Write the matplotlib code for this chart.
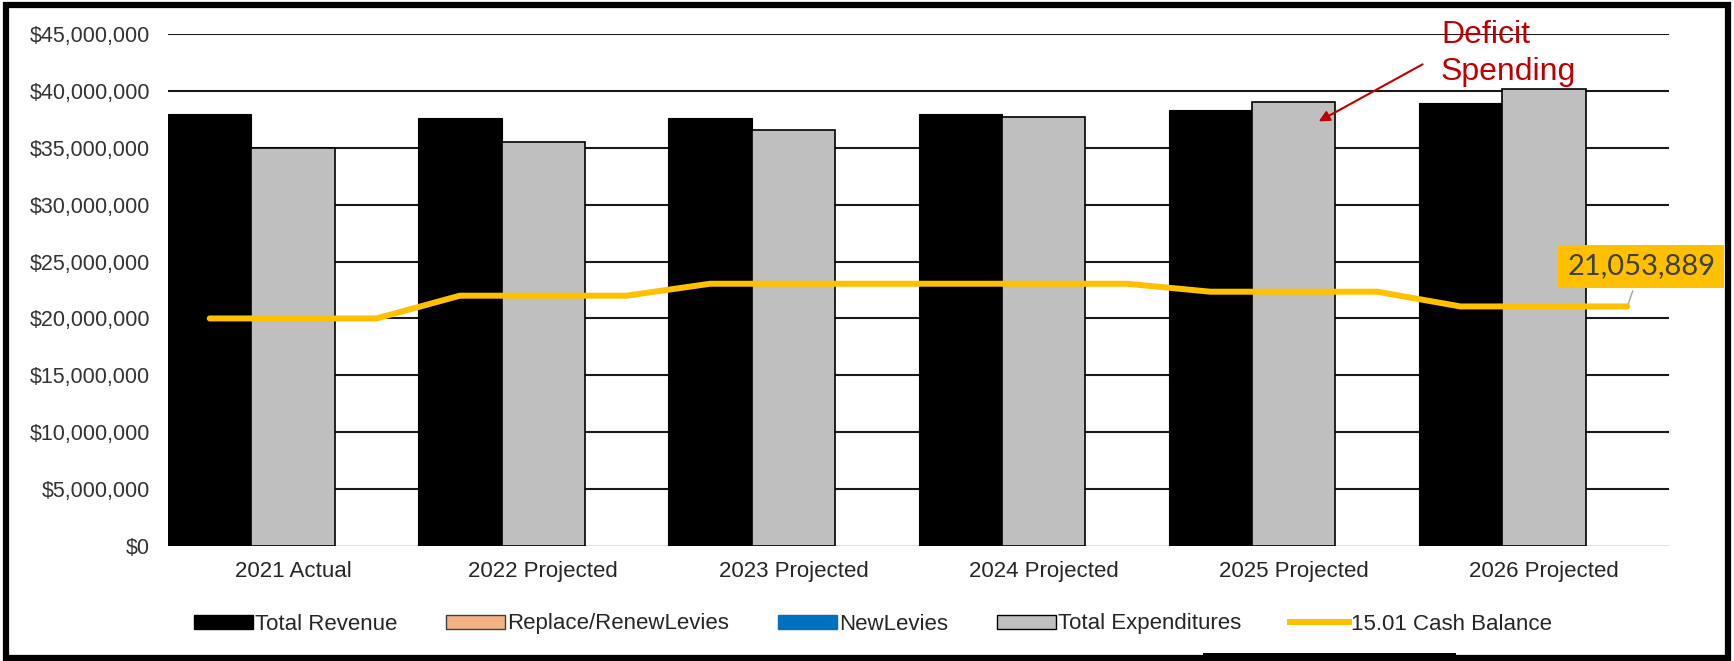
import matplotlib.pyplot as plt
import numpy as np
from matplotlib.patches import Patch, Rectangle
from matplotlib.lines import Line2D
from matplotlib.ticker import FuncFormatter

# Datos
categories = ['2021 Actual', '2022 Projected', '2023 Projected',
              '2024 Projected', '2025 Projected', '2026 Projected']
total_revenue = [37.95e6, 37.6e6, 37.6e6, 37.95e6, 38.35e6, 38.9e6]
replace_renew_levies = [0, 0, 0, 0, 0, 0]
new_levies = [0, 0, 0, 0, 0, 0]
total_expenditures = [35.0e6, 35.55e6, 36.6e6, 37.7e6, 39.0e6, 40.15e6]
cash_balance = [20.0e6, 22.0e6, 23.05e6, 23.05e6, 22.35e6, 21053889]
y_ticks = [0, 5e6, 10e6, 15e6, 20e6, 25e6, 30e6, 35e6, 40e6, 45e6]

plt.rcParams['font.family'] = ['Liberation Sans', 'DejaVu Sans']

W, H = 1734, 661
fig = plt.figure(figsize=(W / 100, H / 100), dpi=100)
ax = fig.add_axes([168 / W, 1 - 546 / H, (1669 - 168) / W, (546 - 34) / H])

x = np.arange(len(categories))
w = 1 / 3

# barras
ax.bar(x - w, total_revenue, width=w, color='black', edgecolor='black', linewidth=0.8, zorder=2)
ax.bar(x - w, replace_renew_levies, bottom=total_revenue, width=w, color='#F4B183',
       linewidth=0, zorder=2)
ax.bar(x, total_expenditures, width=w, color='#BFBFBF', edgecolor='black', linewidth=1.2, zorder=2)
ax.bar(x + w, new_levies, width=w, color='#0070C0', linewidth=0, zorder=2)

# linea de saldo de caja (dos puntos por categoria)
line_x = np.column_stack([x - w, x + w]).ravel()
line_y = np.repeat(cash_balance, 2)
ax.plot(line_x, line_y, color='#FFC000', linewidth=4.3, solid_capstyle='round',
        solid_joinstyle='round', zorder=4)

ax.set_xlim(-0.5, len(categories) - 0.5)
ax.set_ylim(0, 45e6)
ax.set_yticks(y_ticks)
ax.yaxis.set_major_formatter(FuncFormatter(lambda v, p: '${:,.0f}'.format(v)))
ax.set_xticks(x)
ax.set_xticklabels(categories)
ax.tick_params(axis='y', length=0, pad=13, labelsize=15.5, labelcolor='#333333')
ax.tick_params(axis='x', length=0, pad=11, labelsize=16, labelcolor='#262626')
for s in ax.spines.values():
    s.set_visible(False)

ax.set_axisbelow(True)
ax.yaxis.grid(True, color='#1a1a1a', linewidth=1.5)
ax.get_ygridlines()[0].set_visible(False)
ax.axhline(0, color='#D9D9D9', linewidth=1.2, zorder=1)

# etiqueta del ultimo valor
ax.annotate('{:,.0f}'.format(cash_balance[-1]), xy=(line_x[-1], line_y[-1]),
            xytext=(14, 40), textcoords='offset pixels', ha='center', va='center',
            fontsize=21, family='Lato', color='#404040',
            bbox=dict(boxstyle='square,pad=0.3', fc='#FFC000', ec='none'),
            arrowprops=dict(arrowstyle='-', color='#A6A6A6', lw=1), zorder=6)

# anotacion de deficit
ax.annotate('', xy=(4.09, 37.2e6), xytext=(1425, H - 63), textcoords='figure pixels',
            arrowprops=dict(arrowstyle='-|>', color='#C00000', lw=1.5, mutation_scale=16),
            annotation_clip=False, zorder=6)
fig.text(1441 / W, 1 - 43 / H, 'Deficit', color='#C00000', fontsize=23, va='baseline')
fig.text(1441 / W, 1 - 80 / H, 'Spending', color='#C00000', fontsize=23, va='baseline')

# leyenda
handles = [
    Patch(facecolor='black', edgecolor='black'),
    Patch(facecolor='#F4B183', edgecolor='#404040', linewidth=1),
    Patch(facecolor='#0070C0', edgecolor='#0070C0'),
    Patch(facecolor='#BFBFBF', edgecolor='black', linewidth=1),
    Line2D([0], [0], color='#FFC000', linewidth=4.3),
]
labels = ['Total Revenue', 'Replace/RenewLevies', 'NewLevies',
          'Total Expenditures', '15.01 Cash Balance']
leg = fig.legend(handles, labels, loc='center', bbox_to_anchor=(873 / W, 1 - 624 / H),
                 ncol=5, frameon=False, fontsize=16, handlelength=2.65,
                 handleheight=0.6, handletextpad=0.1, columnspacing=2.2)
for t in leg.get_texts():
    t.set_color('#262626')

# marco exterior
fig.patches.append(Rectangle((6 / W, 3 / H), (W - 12) / W, (H - 8) / H,
                             transform=fig.transFigure, fill=False, ec='black', lw=4.5))
fig.patches.append(Rectangle((1203 / W, 0), (1456 - 1203) / W, 8 / H,
                             transform=fig.transFigure, fc='black', ec='none'))

fig.savefig('out.png', dpi=100)
